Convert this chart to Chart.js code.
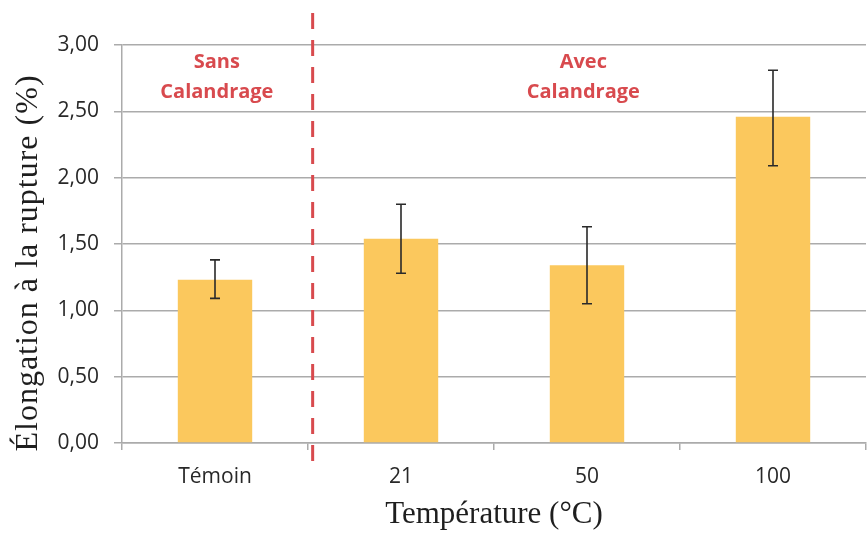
<!DOCTYPE html>
<html>
<head>
<meta charset="utf-8">
<script src="https://cdn.jsdelivr.net/npm/chart.js@4/dist/chart.umd.min.js"></script>
<style>
  html, body { margin: 0; padding: 0; background: #ffffff; }
  #wrap { width: 867px; height: 533px; }
</style>
</head>
<body>
<div id="wrap"><canvas id="chart" width="867" height="533"></canvas></div>
<script>
// Elongation at break (%) per treatment, with min/max of the error bars
const categories = ['Témoin', '21', '50', '100'];
const elongation = [1.23, 1.54, 1.34, 2.46];
const errLow = [1.09, 1.28, 1.05, 2.09];
const errHigh = [1.38, 1.80, 1.63, 2.81];
const yTicks = [0, 0.5, 1, 1.5, 2, 2.5, 3];
const groupLabels = [['Sans', 'Calandrage'], ['Avec', 'Calandrage']];
const xTitle = 'Température (°C)';
const yTitle = 'Élongation à la rupture (%)';

const AXIS_GREY = '#ababab';
const RED = '#d84a4e';

const fmt = v => v.toFixed(2).replace('.', ',');

// Vertical error bars with flat caps
const errorBars = {
  id: 'errorBars',
  afterDatasetsDraw(chart) {
    const { ctx, scales: { y } } = chart;
    const meta = chart.getDatasetMeta(0);
    ctx.save();
    ctx.strokeStyle = '#2a2a2a';
    ctx.lineWidth = 1.6;
    meta.data.forEach((bar, i) => {
      const x = bar.x;
      const yHi = y.getPixelForValue(errHigh[i]);
      const yLo = y.getPixelForValue(errLow[i]);
      ctx.beginPath();
      ctx.moveTo(x, yHi); ctx.lineTo(x, yLo);
      ctx.moveTo(x - 5, yHi); ctx.lineTo(x + 5, yHi);
      ctx.moveTo(x - 5, yLo); ctx.lineTo(x + 5, yLo);
      ctx.stroke();
    });
    ctx.restore();
  }
};

// Dashed separator between the untreated sample and the calendered samples, plus group captions
const groups = {
  id: 'groups',
  afterDraw(chart) {
    const { ctx, chartArea, scales: { x } } = chart;
    ctx.save();
    const xd = x.getPixelForValue(0.525);
    ctx.strokeStyle = RED;
    ctx.lineWidth = 3;
    ctx.setLineDash([16, 11]);
    ctx.beginPath();
    ctx.moveTo(xd, chartArea.top - 32);
    ctx.lineTo(xd, chartArea.bottom + 26);
    ctx.stroke();
    ctx.setLineDash([]);

    ctx.fillStyle = RED;
    ctx.font = 'bold 20px "Open Sans"';
    ctx.textAlign = 'center';
    ctx.textBaseline = 'middle';
    const centres = [0.01, 1.98];
    groupLabels.forEach((lines, g) => {
      const cx = x.getPixelForValue(centres[g]);
      lines.forEach((t, k) => ctx.fillText(t, cx, chartArea.top + 17 + k * 30));
    });
    ctx.restore();
  }
};

// Rotated y-axis title
const yAxisTitle = {
  id: 'yAxisTitle',
  afterDraw(chart) {
    const { ctx, chartArea } = chart;
    ctx.save();
    ctx.translate(29, chartArea.top + 218);
    ctx.rotate(-Math.PI / 2);
    ctx.fillStyle = '#1e1e1e';
    ctx.font = '32px "Liberation Serif"';
    ctx.letterSpacing = '1px';
    ctx.textAlign = 'center';
    ctx.textBaseline = 'middle';
    ctx.fillText(yTitle, 0, 0);
    ctx.restore();
  }
};

new Chart(document.getElementById('chart'), {
  type: 'bar',
  data: {
    labels: categories,
    datasets: [{
      data: elongation,
      backgroundColor: '#fbc85d',
      borderWidth: 0,
      barPercentage: 0.4,
      categoryPercentage: 1.0
    }]
  },
  options: {
    responsive: false,
    animation: false,
    devicePixelRatio: 1,
    layout: { padding: { top: 45, right: 1, left: 0, bottom: 0 } },
    plugins: { legend: { display: false }, tooltip: { enabled: false } },
    scales: {
      x: {
        type: 'category',
        offset: true,
        grid: { offset: true, drawOnChartArea: false, drawTicks: true, tickLength: 7, color: AXIS_GREY, lineWidth: 1.5 },
        border: { color: AXIS_GREY, width: 1.5 },
        ticks: { font: { family: 'Open Sans', size: 21 }, color: '#282828', padding: 14, maxRotation: 0 },
        title: {
          display: true, text: xTitle, color: '#1e1e1e',
          font: { family: 'Liberation Serif', size: 31 },
          padding: { top: 0, bottom: 0 }
        },
        afterFit(s) { s.height = 90; }
      },
      y: {
        min: 0, max: 3,
        afterBuildTicks(s) { s.ticks = yTicks.map(v => ({ value: v })); },
        grid: { color: AXIS_GREY, lineWidth: 1.5, tickLength: 8, drawTicks: true },
        border: { color: AXIS_GREY, width: 1.5 },
        ticks: { font: { family: 'Open Sans', size: 21 }, color: '#282828', padding: 15, callback: v => fmt(v) },
        afterFit(s) { s.width = 122; }
      }
    }
  },
  plugins: [errorBars, groups, yAxisTitle]
});
</script>
</body>
</html>
